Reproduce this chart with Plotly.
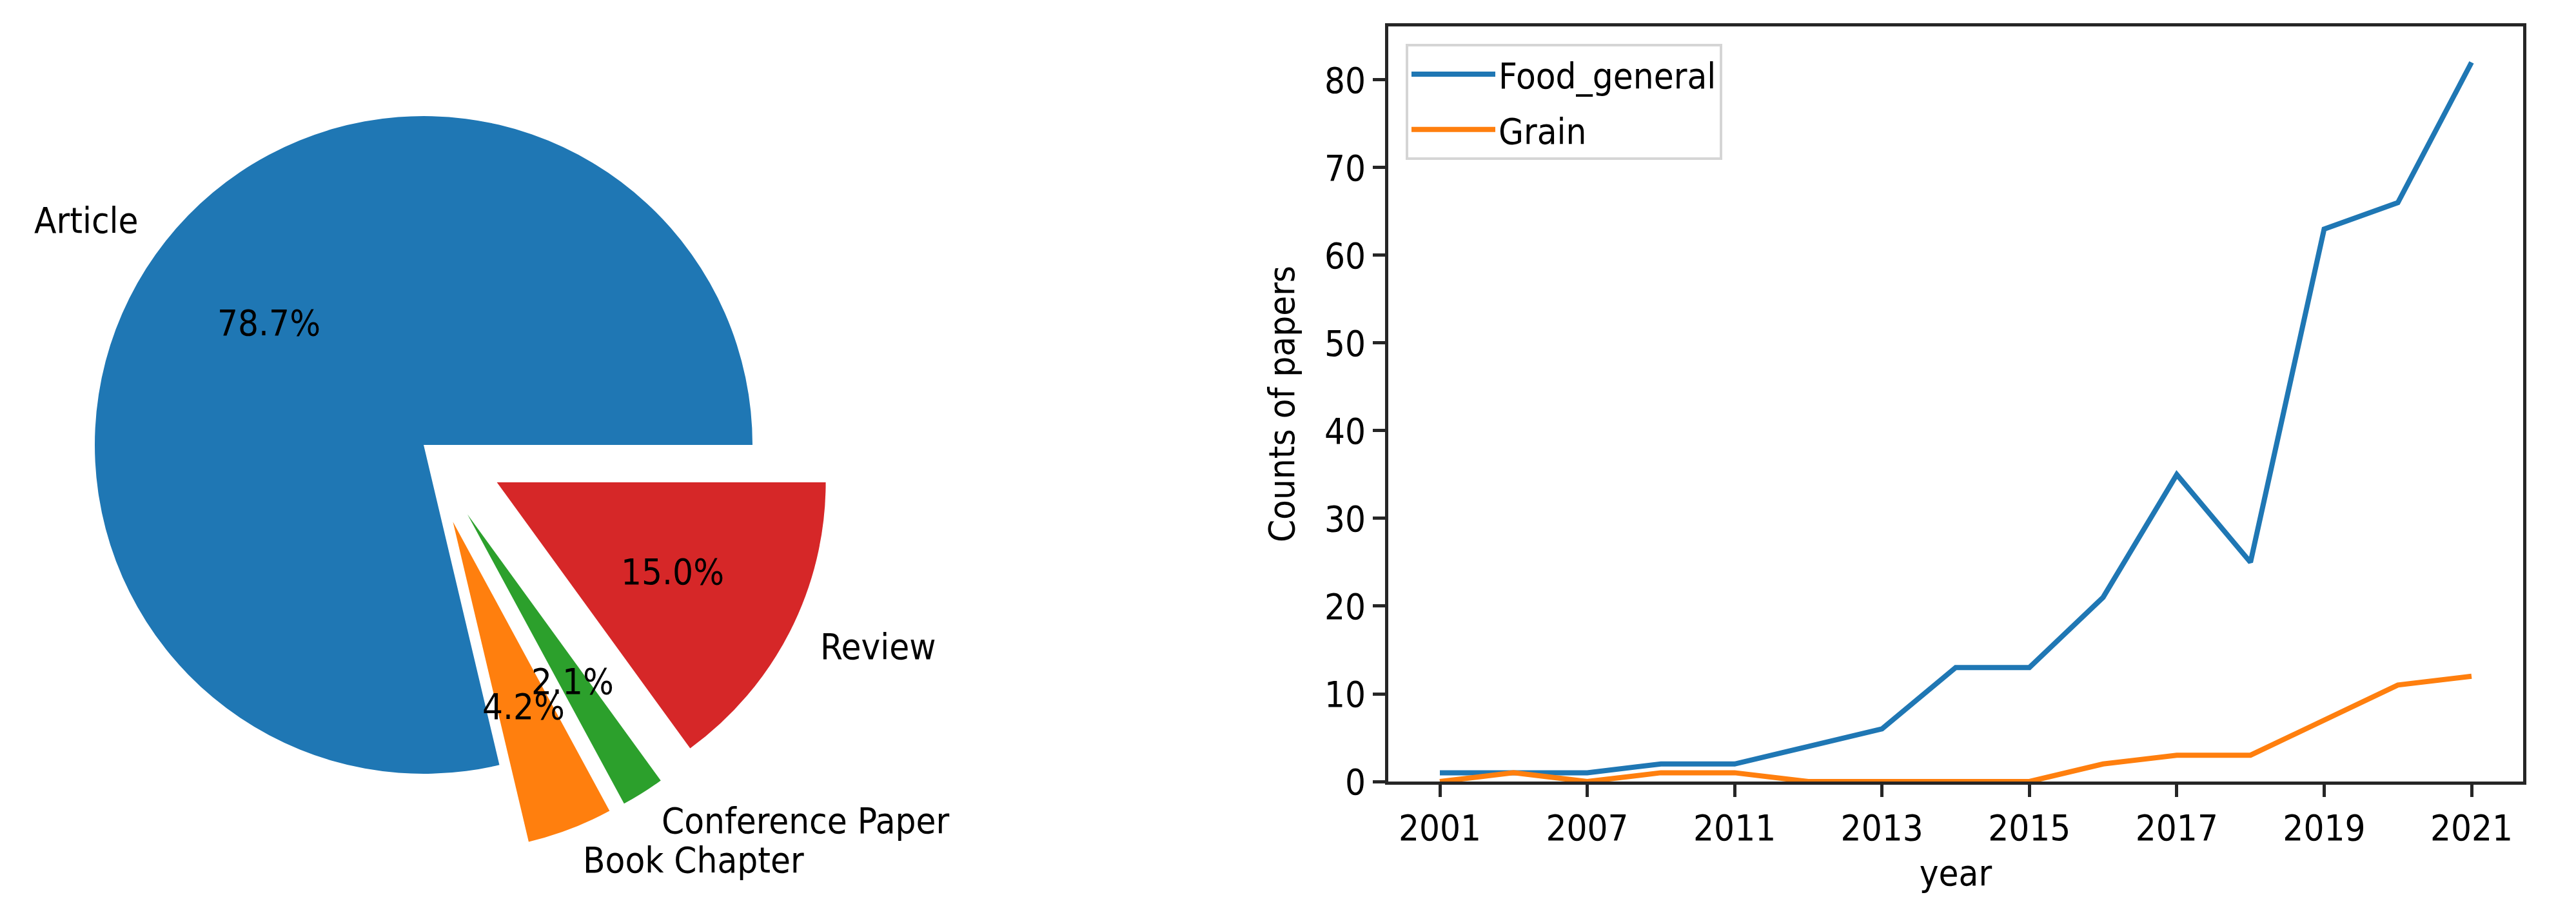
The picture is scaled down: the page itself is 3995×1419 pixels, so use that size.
import math
import plotly.graph_objects as go

# ---------------- data ----------------
doc_types = ["Article", "Book Chapter", "Conference Paper", "Review"]
doc_share = [78.7, 4.2, 2.1, 15.0]
doc_pull = [0.0, 0.25, 0.25, 0.25]
doc_colors = ["#1f77b4", "#ff7f0e", "#2ca02c", "#d62728"]

years = ["2001", "2004", "2007", "2009", "2011", "2012", "2013", "2014",
         "2015", "2016", "2017", "2018", "2019", "2020", "2021"]
food_general = [1, 1, 1, 2, 2, 4, 6, 13, 13, 21, 35, 25, 63, 66, 82]
grain = [0, 1, 0, 1, 1, 0, 0, 0, 0, 2, 3, 3, 7, 11, 12]
year_ticks = years[::2]
y_ticks = [0, 10, 20, 30, 40, 50, 60, 70, 80]

# ---------------- layout constants ----------------
W, H = 3995, 1419
FONT = "DejaVu Sans Condensed, Liberation Sans, DejaVu Sans"
FS = 56
INK = "#000000"
SPINE = "#262626"

# pie geometry (pixels)
cx, cy, R = 657, 690, 510
maxpull = max(doc_pull)
box = 2 * R * (1 + maxpull)
pie_dom_x = [(cx - box / 2) / W, (cx + box / 2) / W]
pie_dom_y = [1 - (cy + box / 2) / H, 1 - (cy - box / 2) / H]

total = sum(doc_share)
# matplotlib style: first wedge starts at 3 o'clock, counter-clockwise.
# plotly (counterclockwise) puts the first slice clockwise of `rotation`.
rot = 90 - doc_share[0] / total * 360
rot = ((rot + 180) % 360) - 180

# line chart axes (pixels)
ax_l, ax_r, ax_t, ax_b = 2153, 3913, 41, 1212

fig = go.Figure()

fig.add_trace(go.Pie(
    labels=doc_types, values=doc_share, pull=doc_pull,
    marker=dict(colors=doc_colors, line=dict(width=0)),
    sort=False, direction="counterclockwise", rotation=rot,
    textinfo="none", hoverinfo="label+percent", showlegend=False,
    domain=dict(x=pie_dom_x, y=pie_dom_y),
))

fig.add_trace(go.Scatter(
    x=years, y=food_general, mode="lines", name="Food_general",
    legendgroup="a",
    line=dict(color="#1f77b4", width=8), xaxis="x", yaxis="y",
))
fig.add_trace(go.Scatter(
    x=years, y=grain, mode="lines", name="Grain",
    legendgroup="b",
    line=dict(color="#ff7f0e", width=8), xaxis="x", yaxis="y",
))

# pie texts, placed like matplotlib (pct at 0.6R, labels at 1.1R)
annotations = []
start = 0.0
for name, v, p in zip(doc_types, doc_share, doc_pull):
    frac = v / total
    mid = math.radians((start + frac / 2) * 360)
    start += frac
    c, s = math.cos(mid), math.sin(mid)
    dp = (p + 0.6) * R
    annotations.append(dict(
        x=(cx + dp * c) / W, y=1 - (cy - dp * s) / H, xref="paper", yref="paper",
        text=f"{frac * 100:.1f}%", showarrow=False, xanchor="center", yanchor="middle",
        font=dict(family=FONT, size=FS, color=INK)))
    dl = (p + 1.1) * R
    annotations.append(dict(
        x=(cx + dl * c) / W, y=1 - (cy - dl * s) / H, xref="paper", yref="paper",
        text=name, showarrow=False, xanchor="left" if c > 0 else "right",
        yanchor="middle", font=dict(family=FONT, size=FS, color=INK)))

axis_common = dict(
    showline=True, linecolor=SPINE, linewidth=4.5, mirror=True,
    ticks="outside", ticklen=19, tickwidth=4.5, tickcolor=SPINE,
    showgrid=False, zeroline=False, automargin=False,
    tickfont=dict(family=FONT, size=FS, color=INK),
)

fig.update_layout(
    width=W, height=H, margin=dict(l=0, r=0, t=0, b=0),
    paper_bgcolor="white", plot_bgcolor="white",
    font=dict(family=FONT, size=FS, color=INK),
    xaxis=dict(
        domain=[ax_l / W, ax_r / W], type="category", categoryorder="array",
        categoryarray=years, range=[-0.7, len(years) - 1 + 0.7],
        tickmode="array", tickvals=year_ticks, ticktext=year_ticks,
        title=dict(text="year", standoff=20, font=dict(family=FONT, size=FS, color=INK)),
        anchor="y", **axis_common),
    yaxis=dict(
        domain=[1 - ax_b / H, 1 - ax_t / H], range=[0, 86.1],
        tickmode="array", tickvals=y_ticks,
        title=dict(text="Counts of papers", standoff=30, font=dict(family=FONT, size=FS, color=INK)),
        anchor="x", **axis_common),
    legend=dict(
        x=2180 / W, y=1 - 68 / H, xanchor="left", yanchor="top",
        bgcolor="white", bordercolor="#d5d5d5", borderwidth=4,
        itemwidth=130, tracegroupgap=10, entrywidth=400, entrywidthmode="pixels",
        font=dict(family=FONT, size=FS, color=INK)),
    annotations=annotations,
)

fig.write_html(
    "out.html",
    config={"displayModeBar": False},
    post_script="document.body.style.margin='0';document.body.style.overflow='hidden';",
)
